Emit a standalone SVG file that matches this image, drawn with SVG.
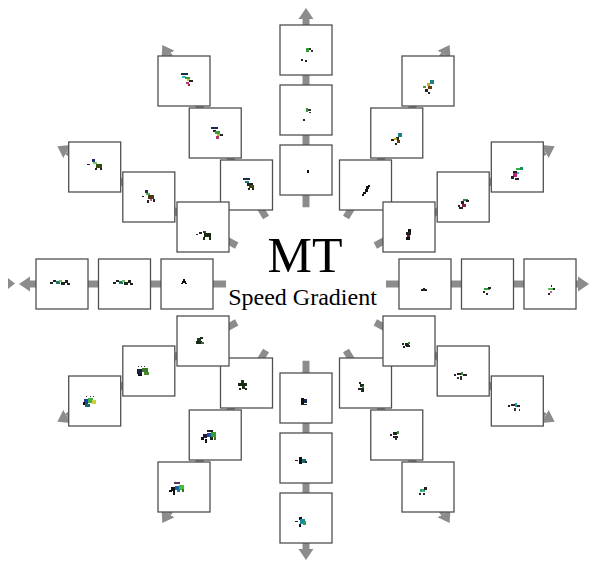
<svg xmlns="http://www.w3.org/2000/svg" width="589" height="563" viewBox="0 0 589 563">
  <style>
    .arm { stroke: #8c8c8c; stroke-width: 7; fill: none; marker-end: url(#head); }
    .box { fill: #ffffff; stroke: #505050; stroke-width: 1.3; }
    .title { font-family: "Liberation Serif", "Times New Roman", serif; fill: #000; text-anchor: middle; }
  </style>
  <defs>
    <marker id="head" viewBox="0 -8 12 16" markerUnits="userSpaceOnUse" markerWidth="12" markerHeight="16" refX="0" refY="0" orient="auto">
      <path d="M0,-7.5 L11,0 L0,7.5 Z" fill="#8c8c8c"/>
    </marker>
  </defs>
  <rect width="589" height="563" fill="#ffffff"/>

  <!-- radial arms, 12 directions around (306,284) -->
  <g id="connectors">
    <line class="arm" x1="386" y1="284" x2="578" y2="284"/>
    <line class="arm" x1="375.3" y1="245.6" x2="545" y2="151.5"/>
    <line class="arm" x1="346" y1="217.5" x2="444" y2="54.5"/>
    <line class="arm" x1="306" y1="207.2" x2="306" y2="19"/>
    <line class="arm" x1="266" y1="217.5" x2="168" y2="54.5"/>
    <line class="arm" x1="236.7" y1="245.6" x2="67" y2="151.5"/>
    <line class="arm" x1="226" y1="284" x2="30" y2="284"/>
    <line class="arm" x1="236.7" y1="322.4" x2="67" y2="416.5"/>
    <line class="arm" x1="266" y1="350.5" x2="168" y2="513.5"/>
    <line class="arm" x1="306" y1="360.8" x2="306" y2="549"/>
    <line class="arm" x1="346" y1="350.5" x2="444" y2="513.5"/>
    <line class="arm" x1="375.3" y1="322.4" x2="545" y2="416.5"/>
    <polygon points="8,278 15,283.5 8,289" fill="#8c8c8c"/>
  </g>

  <!-- vertical arm, up -->
  <g id="n-up-1">
    <rect class="box" x="280" y="145" width="52" height="50"/>
    <rect x="307" y="170" width="2" height="3" fill="#111"/>
  </g>
  <g id="n-up-2">
    <rect class="box" x="280" y="85" width="52" height="50"/>
    <rect x="306" y="108" width="2" height="4" fill="#3a9a3a"/>
    <rect x="308" y="109" width="3" height="2" fill="#333"/>
    <rect x="309" y="112" width="2" height="1" fill="#333"/>
    <rect x="303" y="119" width="2" height="2" fill="#222"/>
  </g>
  <g id="n-up-3">
    <rect class="box" x="280" y="25" width="52" height="50"/>
    <rect x="306" y="48" width="3" height="4" fill="#3a9a3a"/>
    <rect x="309" y="48" width="2" height="2" fill="#333"/>
    <rect x="311" y="50" width="2" height="2" fill="#333"/>
    <rect x="301" y="59" width="2" height="2" fill="#222"/>
    <rect x="305" y="60" width="2" height="2" fill="#222"/>
  </g>

  <!-- vertical arm, down -->
  <g id="n-down-1">
    <rect class="box" x="280" y="373" width="52" height="50"/>
    <rect x="301" y="398" width="3" height="6" fill="#111"/>
    <rect x="304" y="399" width="3" height="4" fill="#1a2a4a"/>
    <rect x="301" y="404" width="6" height="1" fill="#222"/>
  </g>
  <g id="n-down-2">
    <rect class="box" x="280" y="433" width="52" height="50"/>
    <rect x="295" y="460" width="3" height="1" fill="#222"/>
    <rect x="299" y="457" width="3" height="7" fill="#111"/>
    <rect x="302" y="459" width="4" height="4" fill="#1a6a7a"/>
    <rect x="305" y="461" width="2" height="2" fill="#222"/>
  </g>
  <g id="n-down-3">
    <rect class="box" x="280" y="493" width="52" height="50"/>
    <rect x="295" y="521" width="3" height="1" fill="#222"/>
    <rect x="299" y="517" width="3" height="3" fill="#111"/>
    <rect x="300" y="519" width="5" height="5" fill="#1a8a9a"/>
    <rect x="303" y="521" width="3" height="4" fill="#2aa060"/>
    <rect x="299" y="524" width="2" height="3" fill="#111"/>
  </g>

  <!-- horizontal arm, left -->
  <g id="n-left-1">
    <rect class="box" x="161" y="259" width="52" height="50"/>
    <rect x="183" y="279" width="2" height="2" fill="#111"/>
    <rect x="182" y="281" width="4" height="2" fill="#111"/>
    <rect x="181" y="283" width="2" height="1" fill="#111"/>
    <rect x="185" y="283" width="2" height="1" fill="#111"/>
  </g>
  <g id="n-left-2">
    <rect class="box" x="98.5" y="259" width="52" height="50"/>
    <rect x="113" y="282" width="3" height="2" fill="#222"/>
    <rect x="116" y="280" width="3" height="2" fill="#222"/>
    <rect x="119" y="281" width="4" height="3" fill="#1a7a6a"/>
    <rect x="122" y="280" width="3" height="2" fill="#6ac050"/>
    <rect x="124" y="282" width="4" height="3" fill="#1a2a1a"/>
    <rect x="128" y="280" width="3" height="3" fill="#222"/>
    <rect x="130" y="283" width="3" height="2" fill="#222"/>
  </g>
  <g id="n-left-3">
    <rect class="box" x="36" y="259" width="52" height="50"/>
    <rect x="50" y="282" width="3" height="2" fill="#222"/>
    <rect x="53" y="280" width="3" height="2" fill="#222"/>
    <rect x="56" y="281" width="4" height="3" fill="#1a7a6a"/>
    <rect x="59" y="280" width="3" height="2" fill="#6ac050"/>
    <rect x="61" y="282" width="4" height="3" fill="#1a2a1a"/>
    <rect x="65" y="280" width="3" height="3" fill="#222"/>
    <rect x="67" y="283" width="3" height="2" fill="#222"/>
  </g>

  <!-- horizontal arm, right -->
  <g id="n-right-1">
    <rect class="box" x="399" y="259" width="52" height="50"/>
    <rect x="421" y="289" width="6" height="2" fill="#222"/>
    <rect x="423" y="288" width="2" height="1" fill="#222"/>
  </g>
  <g id="n-right-2">
    <rect class="box" x="461.5" y="259" width="52" height="50"/>
    <rect x="484" y="288" width="6" height="2" fill="#3a9a3a"/>
    <rect x="488" y="287" width="3" height="2" fill="#222"/>
    <rect x="483" y="291" width="2" height="2" fill="#222"/>
    <rect x="486" y="293" width="2" height="2" fill="#222"/>
  </g>
  <g id="n-right-3">
    <rect class="box" x="524" y="259" width="52" height="50"/>
    <rect x="551" y="285" width="1" height="2" fill="#222"/>
    <rect x="548" y="288" width="6" height="2" fill="#5ac05a"/>
    <rect x="553" y="288" width="2" height="2" fill="#222"/>
    <rect x="550" y="291" width="2" height="2" fill="#c06090"/>
    <rect x="548" y="293" width="2" height="2" fill="#222"/>
  </g>

  <!-- 60 degree arm, upper right -->
  <g id="n-ur60-1">
    <rect class="box" x="339.5" y="160" width="52" height="50"/>
    <rect x="366" y="186" width="3" height="3" fill="#111"/>
    <rect x="368" y="185" width="2" height="2" fill="#111"/>
    <rect x="365" y="189" width="3" height="3" fill="#111"/>
    <rect x="363" y="192" width="3" height="2" fill="#111"/>
    <rect x="362" y="194" width="2" height="2" fill="#111"/>
  </g>
  <g id="n-ur60-2">
    <rect class="box" x="370.75" y="108" width="52" height="50"/>
    <rect x="398" y="133" width="4" height="4" fill="#1a8080"/>
    <rect x="396" y="137" width="3" height="3" fill="#222"/>
    <rect x="394" y="138" width="3" height="2" fill="#c0b030"/>
    <rect x="391" y="139" width="3" height="2" fill="#222"/>
    <rect x="397" y="140" width="3" height="3" fill="#6a3a10"/>
    <rect x="395" y="143" width="2" height="2" fill="#222"/>
  </g>
  <g id="n-ur60-3">
    <rect class="box" x="402" y="56" width="52" height="50"/>
    <rect x="430" y="80" width="4" height="4" fill="#1a8080"/>
    <rect x="427" y="83" width="3" height="3" fill="#c0b030"/>
    <rect x="428" y="86" width="4" height="3" fill="#6a3a10"/>
    <rect x="423" y="86" width="3" height="2" fill="#4a9a30"/>
    <rect x="425" y="89" width="3" height="3" fill="#222"/>
    <rect x="428" y="92" width="2" height="2" fill="#222"/>
  </g>

  <!-- 120 degree arm, upper left -->
  <g id="n-ul60-1">
    <rect class="box" x="220.5" y="160" width="52" height="50"/>
    <rect x="243" y="178" width="7" height="2" fill="#1a2a4a"/>
    <rect x="245" y="181" width="4" height="2" fill="#1a7a7a"/>
    <rect x="247" y="183" width="6" height="3" fill="#222"/>
    <rect x="249" y="185" width="5" height="3" fill="#3a4a10"/>
    <rect x="248" y="188" width="2" height="2" fill="#222"/>
    <rect x="252" y="188" width="2" height="2" fill="#222"/>
  </g>
  <g id="n-ul60-2">
    <rect class="box" x="189.25" y="108" width="52" height="50"/>
    <rect x="211" y="127" width="7" height="2" fill="#1a2a4a"/>
    <rect x="213" y="130" width="3" height="2" fill="#222"/>
    <rect x="215" y="131" width="5" height="3" fill="#3a9a3a"/>
    <rect x="217" y="134" width="3" height="2" fill="#c8b030"/>
    <rect x="220" y="134" width="3" height="2" fill="#222"/>
    <rect x="216" y="136" width="3" height="3" fill="#b03070"/>
  </g>
  <g id="n-ul60-3">
    <rect class="box" x="158" y="56" width="52" height="50"/>
    <rect x="181" y="73" width="7" height="2" fill="#1a2a4a"/>
    <rect x="182" y="76" width="4" height="2" fill="#30c0c0"/>
    <rect x="185" y="77" width="5" height="2" fill="#3a9a3a"/>
    <rect x="187" y="79" width="3" height="2" fill="#d4c030"/>
    <rect x="189" y="80" width="4" height="2" fill="#222"/>
    <rect x="186" y="82" width="3" height="2" fill="#c03080"/>
    <rect x="188" y="84" width="2" height="2" fill="#a02030"/>
  </g>

  <!-- 240 degree arm, lower left -->
  <g id="n-ll60-1">
    <rect class="box" x="220.5" y="358" width="52" height="50"/>
    <rect x="241" y="380" width="3" height="3" fill="#1a3a1a"/>
    <rect x="238" y="383" width="9" height="3" fill="#1a2a10"/>
    <rect x="242" y="386" width="3" height="3" fill="#1a3a1a"/>
    <rect x="239" y="388" width="2" height="2" fill="#222"/>
    <rect x="245" y="388" width="2" height="2" fill="#222"/>
  </g>
  <g id="n-ll60-2">
    <rect class="box" x="189.25" y="410" width="52" height="50"/>
    <rect x="207" y="430" width="6" height="2" fill="#222"/>
    <rect x="203" y="434" width="4" height="4" fill="#1a1a40"/>
    <rect x="207" y="433" width="4" height="4" fill="#2050a0"/>
    <rect x="211" y="432" width="5" height="5" fill="#3a9a3a"/>
    <rect x="201" y="437" width="3" height="3" fill="#111"/>
    <rect x="205" y="439" width="2" height="4" fill="#111"/>
    <rect x="210" y="437" width="3" height="3" fill="#1a2a1a"/>
    <rect x="214" y="437" width="2" height="3" fill="#4a6a1a"/>
  </g>
  <g id="n-ll60-3">
    <rect class="box" x="158" y="462" width="52" height="50"/>
    <rect x="174" y="482" width="6" height="2" fill="#603060"/>
    <rect x="171" y="487" width="4" height="4" fill="#111"/>
    <rect x="175" y="486" width="4" height="4" fill="#1a60b0"/>
    <rect x="179" y="485" width="5" height="5" fill="#40c040"/>
    <rect x="177" y="489" width="3" height="3" fill="#1a8080"/>
    <rect x="169" y="490" width="3" height="2" fill="#111"/>
    <rect x="173" y="491" width="2" height="4" fill="#111"/>
    <rect x="182" y="489" width="2" height="3" fill="#4a6a1a"/>
  </g>

  <!-- 300 degree arm, lower right -->
  <g id="n-lr60-1">
    <rect class="box" x="339.5" y="358" width="52" height="50"/>
    <rect x="359" y="382" width="2" height="2" fill="#222"/>
    <rect x="360" y="384" width="4" height="3" fill="#1a2a1a"/>
    <rect x="362" y="386" width="2" height="2" fill="#3a8a3a"/>
    <rect x="358" y="388" width="6" height="2" fill="#222"/>
    <rect x="361" y="390" width="3" height="2" fill="#222"/>
  </g>
  <g id="n-lr60-2">
    <rect class="box" x="370.75" y="410" width="52" height="50"/>
    <rect x="390" y="434" width="2" height="2" fill="#222"/>
    <rect x="393" y="432" width="4" height="3" fill="#222"/>
    <rect x="397" y="431" width="2" height="3" fill="#3a8a3a"/>
    <rect x="393" y="436" width="5" height="2" fill="#222"/>
    <rect x="395" y="438" width="2" height="2" fill="#333"/>
  </g>
  <g id="n-lr60-3">
    <rect class="box" x="402" y="462" width="52" height="50"/>
    <rect x="420" y="489" width="5" height="3" fill="#3aa05a"/>
    <rect x="424" y="487" width="3" height="3" fill="#222"/>
    <rect x="422" y="490" width="2" height="2" fill="#30c0c0"/>
    <rect x="419" y="493" width="2" height="2" fill="#222"/>
    <rect x="423" y="493" width="2" height="2" fill="#222"/>
  </g>

  <!-- 30 degree arm, upper right -->
  <g id="n-ur30-1">
    <rect class="box" x="383" y="202" width="52" height="50"/>
    <rect x="408" y="229" width="3" height="3" fill="#111"/>
    <rect x="406" y="232" width="5" height="3" fill="#222"/>
    <rect x="407" y="235" width="3" height="2" fill="#7a1a20"/>
    <rect x="406" y="237" width="4" height="3" fill="#111"/>
  </g>
  <g id="n-ur30-2">
    <rect class="box" x="437.2" y="172" width="52" height="50"/>
    <rect x="463" y="199" width="5" height="2" fill="#2a8a4a"/>
    <rect x="466" y="200" width="3" height="2" fill="#222"/>
    <rect x="461" y="201" width="3" height="3" fill="#222"/>
    <rect x="462" y="204" width="4" height="3" fill="#8a1a40"/>
    <rect x="458" y="205" width="2" height="2" fill="#222"/>
    <rect x="459" y="207" width="4" height="2" fill="#222"/>
  </g>
  <g id="n-ur30-3">
    <rect class="box" x="491.3" y="142" width="52" height="50"/>
    <rect x="516" y="168" width="5" height="2" fill="#3ab03a"/>
    <rect x="520" y="167" width="3" height="3" fill="#1a8a6a"/>
    <rect x="513" y="171" width="4" height="2" fill="#222"/>
    <rect x="517" y="172" width="2" height="2" fill="#30c0c0"/>
    <rect x="513" y="173" width="4" height="4" fill="#c02080"/>
    <rect x="511" y="176" width="3" height="3" fill="#222"/>
    <rect x="515" y="178" width="4" height="2" fill="#222"/>
  </g>

  <!-- 150 degree arm, upper left -->
  <g id="n-ul30-1">
    <rect class="box" x="177" y="202" width="52" height="50"/>
    <rect x="196" y="234" width="2" height="1" fill="#222"/>
    <rect x="199" y="232" width="3" height="2" fill="#222"/>
    <rect x="203" y="231" width="3" height="2" fill="#2a4a2a"/>
    <rect x="204" y="233" width="7" height="4" fill="#1a2a10"/>
    <rect x="203" y="237" width="2" height="3" fill="#1a2a10"/>
    <rect x="209" y="237" width="2" height="3" fill="#1a2a10"/>
  </g>
  <g id="n-ul30-2">
    <rect class="box" x="122.8" y="172" width="52" height="50"/>
    <rect x="142" y="196" width="2" height="1" fill="#222"/>
    <rect x="145" y="190" width="3" height="3" fill="#1a2a4a"/>
    <rect x="146" y="193" width="4" height="2" fill="#4caf50"/>
    <rect x="148" y="195" width="6" height="4" fill="#4a3a1a"/>
    <rect x="150" y="199" width="2" height="2" fill="#c06080"/>
    <rect x="147" y="200" width="2" height="3" fill="#222"/>
    <rect x="153" y="199" width="2" height="3" fill="#222"/>
  </g>
  <g id="n-ul30-3">
    <rect class="box" x="68.7" y="142" width="52" height="50"/>
    <rect x="87" y="164" width="3" height="1" fill="#222"/>
    <rect x="92" y="159" width="3" height="3" fill="#1a2a6a"/>
    <rect x="93" y="162" width="4" height="2" fill="#5fd35f"/>
    <rect x="96" y="164" width="6" height="4" fill="#3a4a10"/>
    <rect x="95" y="168" width="2" height="2" fill="#222"/>
    <rect x="100" y="168" width="2" height="2" fill="#222"/>
  </g>

  <!-- 210 degree arm, lower left -->
  <g id="n-ll30-1">
    <rect class="box" x="177" y="316" width="52" height="50"/>
    <rect x="197" y="338" width="4" height="3" fill="#1a3a1a"/>
    <rect x="200" y="337" width="3" height="2" fill="#1a2a1a"/>
    <rect x="196" y="341" width="6" height="3" fill="#1a2a1a"/>
    <rect x="201" y="342" width="3" height="2" fill="#3a6a2a"/>
  </g>
  <g id="n-ll30-2">
    <rect class="box" x="122.8" y="346" width="52" height="50"/>
    <rect x="138" y="366" width="1" height="1" fill="#333"/>
    <rect x="141" y="366" width="1" height="1" fill="#333"/>
    <rect x="144" y="366" width="1" height="1" fill="#333"/>
    <rect x="137" y="369" width="5" height="5" fill="#1a2040"/>
    <rect x="142" y="368" width="6" height="4" fill="#3a7a2a"/>
    <rect x="144" y="372" width="5" height="3" fill="#4a8a2a"/>
    <rect x="138" y="374" width="4" height="2" fill="#111"/>
  </g>
  <g id="n-ll30-3">
    <rect class="box" x="68.7" y="376" width="52" height="50"/>
    <rect x="86" y="396" width="1" height="1" fill="#333"/>
    <rect x="90" y="396" width="1" height="1" fill="#333"/>
    <rect x="93" y="396" width="1" height="1" fill="#333"/>
    <rect x="84" y="399" width="4" height="5" fill="#2040a0"/>
    <rect x="88" y="398" width="5" height="5" fill="#40b040"/>
    <rect x="92" y="400" width="4" height="4" fill="#c8d040"/>
    <rect x="85" y="404" width="5" height="3" fill="#1a6a6a"/>
    <rect x="83" y="402" width="2" height="3" fill="#111"/>
  </g>

  <!-- 330 degree arm, lower right -->
  <g id="n-lr30-1">
    <rect class="box" x="383" y="316" width="52" height="50"/>
    <rect x="402" y="343" width="2" height="2" fill="#222"/>
    <rect x="405" y="343" width="4" height="3" fill="#222"/>
    <rect x="408" y="342" width="2" height="2" fill="#3a8a3a"/>
    <rect x="403" y="346" width="2" height="2" fill="#222"/>
    <rect x="406" y="345" width="4" height="2" fill="#222"/>
  </g>
  <g id="n-lr30-2">
    <rect class="box" x="437.2" y="346" width="52" height="50"/>
    <rect x="454" y="374" width="2" height="2" fill="#222"/>
    <rect x="457" y="373" width="4" height="2" fill="#222"/>
    <rect x="461" y="372" width="2" height="3" fill="#3a8a3a"/>
    <rect x="463" y="374" width="4" height="2" fill="#222"/>
    <rect x="460" y="376" width="2" height="4" fill="#333"/>
    <rect x="457" y="377" width="2" height="2" fill="#333"/>
  </g>
  <g id="n-lr30-3">
    <rect class="box" x="491.3" y="376" width="52" height="50"/>
    <rect x="508" y="405" width="2" height="2" fill="#222"/>
    <rect x="511" y="404" width="4" height="2" fill="#222"/>
    <rect x="515" y="403" width="2" height="4" fill="#1aa0a0"/>
    <rect x="517" y="405" width="3" height="2" fill="#222"/>
    <rect x="514" y="408" width="2" height="3" fill="#333"/>
    <rect x="519" y="409" width="1" height="2" fill="#333"/>
  </g>

  <!-- central caption -->
  <g id="title">
    <text class="title" x="305" y="272" font-size="50">MT</text>
    <text class="title" x="302.5" y="305" font-size="24">Speed Gradient</text>
  </g>
</svg>
